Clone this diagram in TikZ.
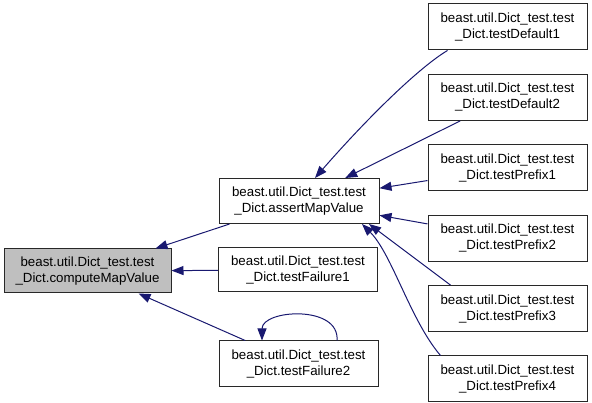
\documentclass[tikz,border=0pt]{standalone}
\usepackage{fontspec}
\setmainfont{Liberation Sans}
\usepackage{tikz}
\usetikzlibrary{arrows.meta,positioning,calc}
\definecolor{edgeNavy}{RGB}{25,25,112}
\definecolor{rootGray}{RGB}{191,191,191}
\definecolor{boxInk}{RGB}{40,40,40}
\tikzset{
  call node/.style={draw=boxInk,fill=white,line width=1pt,rectangle,align=center,inner sep=0pt,font=\fontsize{13.3}{16}\selectfont,minimum width=159pt,minimum height=46pt},
  call node root/.style={call node,fill=rootGray,minimum width=167pt,minimum height=44pt},
  call arrow/.style={-{Triangle[length=12pt,width=9pt]},line width=1pt,draw=edgeNavy}
}

\begin{document}
\begin{tikzpicture}[x=1pt,y=-1pt,node distance=23.4pt]
        \useasboundingbox (0,0) rectangle (592,403);
        \node[call node root] (compute) at (87.5,271) {beast.util.Dict\_test.test\\\_Dict.computeMapValue};
        \node[call node,minimum width=160pt,minimum height=45pt] (assert) at (299,201) {beast.util.Dict\_test.test\\\_Dict.assertMapValue};
        \node[call node,minimum height=44pt] (fail1) at (298,270) {beast.util.Dict\_test.test\\\_Dict.testFailure1};
        \node[call node] (fail2) at (298.5,364) {beast.util.Dict\_test.test\\\_Dict.testFailure2};
        \node[call node] (def1) at (507.5,27) {beast.util.Dict\_test.test\\\_Dict.testDefault1};
        \node[call node,below=of def1] (def2) {beast.util.Dict\_test.test\\\_Dict.testDefault2};
        \node[call node,below=of def2] (pre1) {beast.util.Dict\_test.test\\\_Dict.testPrefix1};
        \node[call node,below=of pre1] (pre2) {beast.util.Dict\_test.test\\\_Dict.testPrefix2};
        \node[call node,below=of pre2] (pre3) {beast.util.Dict\_test.test\\\_Dict.testPrefix3};
        \node[call node,below=of pre3] (pre4) {beast.util.Dict\_test.test\\\_Dict.testPrefix4};
        \draw[call arrow] (assert) -- (compute);
        \draw[call arrow] (fail1) -- (compute);
        \draw[call arrow] (fail2) -- (compute);
        \draw[call arrow] ([xshift=38.5pt]fail2.north) .. controls +(3,-36) and +(0,-31) .. ([xshift=-36.5pt]fail2.north);
        \draw[call arrow] ([xshift=-60pt]def1.south) .. controls +(-27,16) and +(55,-63) .. ([xshift=16pt]assert.north);
        \draw[call arrow] (def2) -- (assert);
        \draw[call arrow] (pre1) -- (assert);
        \draw[call arrow] (pre2) -- (assert);
        \draw[call arrow] ([xshift=-57pt]pre3.north) -- ([xshift=70pt]assert.south);
        \draw[call arrow] ([xshift=-67pt]pre4.north) .. controls +(-30,-35) and +(30,30) .. ([xshift=63pt]assert.south);
      \end{tikzpicture}
\end{document}
